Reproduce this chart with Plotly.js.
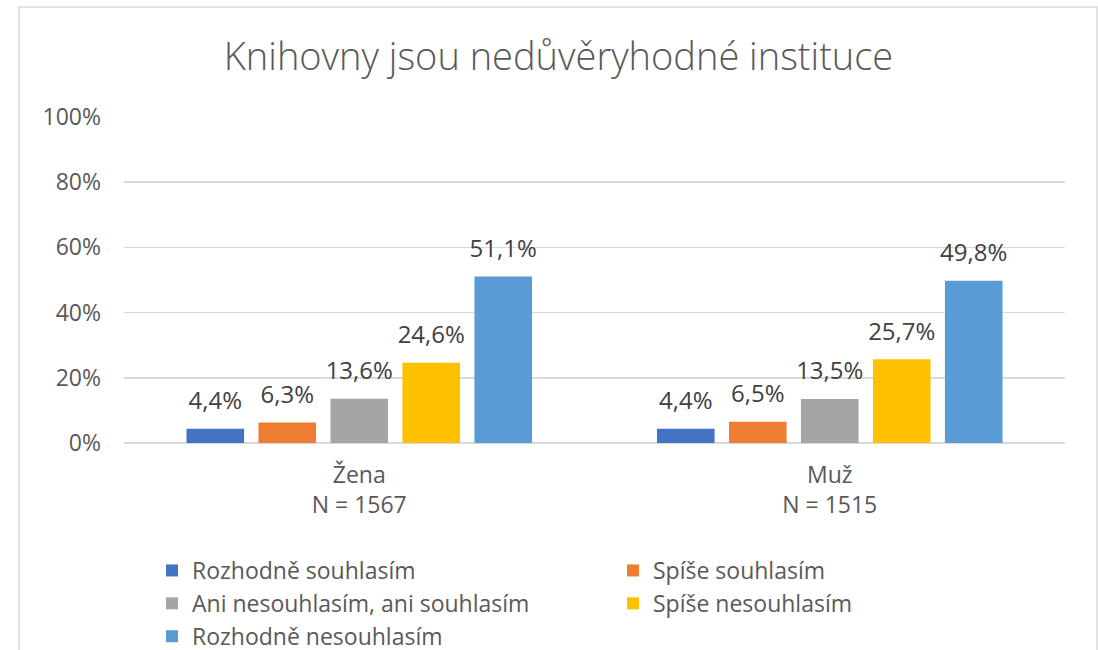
<!DOCTYPE html>
<html>
<head>
<meta charset="utf-8">
<script src="https://cdn.plot.ly/plotly-3.0.1.min.js"></script>
<style>html,body{margin:0;padding:0;background:#fff;}#chart{width:1098px;height:650px;}</style>
</head>
<body>
<div id="chart"></div>
<script>
var categories = ["Žena<br>N = 1567", "Muž<br>N = 1515"];
var seriesNames = ["Rozhodně souhlasím", "Spíše souhlasím", "Ani nesouhlasím, ani souhlasím", "Spíše nesouhlasím", "Rozhodně nesouhlasím"];
var seriesColors = ["#4472C4", "#ED7D31", "#A5A5A5", "#FFC000", "#5B9BD5"];
var rozhodneSouhlasim = [0.044, 0.044];
var spiseSouhlasim = [0.063, 0.065];
var aniAni = [0.136, 0.135];
var spiseNesouhlasim = [0.246, 0.257];
var rozhodneNesouhlasim = [0.511, 0.498];
var yTickVals = [0, 0.2, 0.4, 0.6, 0.8, 1.0];

var seriesValues = [rozhodneSouhlasim, spiseSouhlasim, aniAni, spiseNesouhlasim, rozhodneNesouhlasim];
var legendColumn = ['legend', 'legend2', 'legend', 'legend2', 'legend'];
var FONT = "'Open Sans', 'Segoe UI', sans-serif";
var GAP = 0.235;

var barTraces = seriesValues.map(function (vals, i) {
  return {
    type: 'bar',
    name: seriesNames[i],
    x: categories,
    y: vals,
    legend: legendColumn[i],
    legendgroup: 'g' + i,
    marker: {color: seriesColors[i]},
    hoverinfo: 'skip'
  };
});

var labelTraces = seriesValues.map(function (vals, i) {
  return {
    type: 'scatter',
    mode: 'markers+text',
    name: seriesNames[i] + ' label',
    x: categories,
    y: vals,
    showlegend: false,
    legendgroup: 'g' + i,
    marker: {size: 20, color: 'rgba(0,0,0,0)'},
    texttemplate: '%{y:.1%}',
    textposition: 'top center',
    cliponaxis: false,
    textfont: {family: FONT, size: 24, color: '#404040'},
    hoverinfo: 'skip'
  };
});

var L = 124, R = 33, T = 117, B = 207;
var W = 1098 - L - R, H = 650 - T - B;

function legendAt(leftPx) {
  return {
    orientation: 'v',
    xref: 'container', yref: 'container',
    x: leftPx / 1098,
    xanchor: 'left',
    y: 1 - 549 / 650,
    yanchor: 'top',
    font: {family: FONT, size: 23, color: '#595959'},
    itemwidth: 30,
    tracegroupgap: 1,
    traceorder: 'normal',
    bgcolor: 'rgba(0,0,0,0)'
  };
}

var layout = {
  width: 1098,
  height: 650,
  margin: {l: L, r: R, t: T, b: B, pad: 0, autoexpand: false},
  paper_bgcolor: '#ffffff',
  plot_bgcolor: '#ffffff',
  separators: ', ',
  barmode: 'group',
  bargap: GAP,
  bargroupgap: 0.2,
  scattermode: 'group',
  scattergap: GAP,
  font: {family: FONT, color: '#595959'},
  title: {
    text: 'Knihovny jsou nedůvěryhodné instituce',
    font: {family: FONT, size: 38, color: '#595959', weight: 300},
    x: 558.5 / 1098,
    xanchor: 'center',
    y: 1 - 57 / 650,
    yanchor: 'middle'
  },
  xaxis: {
    tickfont: {family: FONT, size: 23, color: '#595959'},
    showgrid: false,
    showline: false,
    ticks: '',
    ticklabelstandoff: 16,
    fixedrange: true,
    automargin: false
  },
  yaxis: {
    range: [0, 1],
    tickvals: yTickVals,
    tickformat: '.0%',
    tickfont: {family: FONT, size: 23, color: '#595959'},
    gridcolor: '#d9d9d9',
    gridwidth: 1.5,
    zeroline: true,
    zerolinecolor: '#d9d9d9',
    zerolinewidth: 1.5,
    showline: false,
    ticks: '',
    ticklabelstandoff: 22,
    fixedrange: true,
    automargin: false
  },
  legend: legendAt(152),
  legend2: legendAt(613),
  shapes: [{
    type: 'rect',
    xref: 'paper', yref: 'paper',
    x0: (19 - L) / W, x1: (1097 - L) / W,
    y0: -(680 - 443) / H, y1: (443 - 7) / H,
    line: {color: '#d9d9d9', width: 1.5},
    fillcolor: 'rgba(0,0,0,0)',
    layer: 'below'
  }],
  showlegend: true
};

Plotly.newPlot('chart', barTraces.concat(labelTraces), layout, {displayModeBar: false, staticPlot: true});
</script>
</body>
</html>
